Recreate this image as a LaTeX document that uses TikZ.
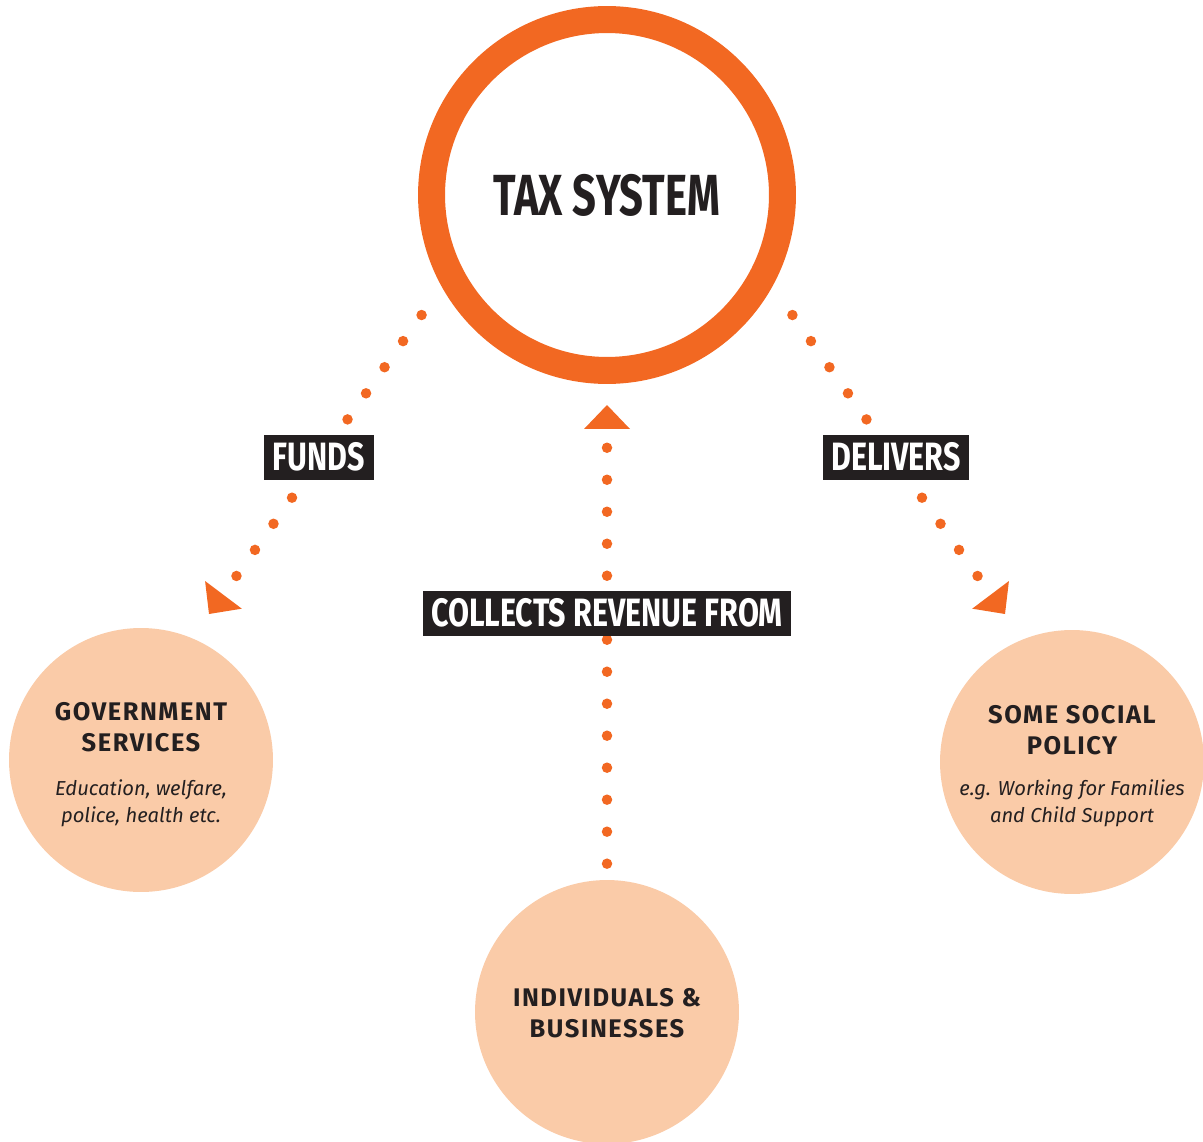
\documentclass[tikz,border=0pt]{standalone}
\usepackage{fontspec}
\setmainfont{Fira Sans}
\newfontfamily\condfont[FakeStretch=0.72]{Fira Sans}
\newfontfamily\tagfont[FakeStretch=0.77]{Fira Sans}
\newfontfamily\headfont[LetterSpace=6]{Fira Sans}
\usetikzlibrary{shapes.geometric}

\definecolor{taxorange}{RGB}{242,104,34}
\definecolor{peach}{RGB}{250,203,168}
\definecolor{ink}{RGB}{35,31,32}

\tikzset{
  bubble/.style={circle, fill=peach, minimum size=5.28cm, inner sep=0},
  heading/.style={align=center, text=ink, inner sep=0, font=\headfont\fontsize{14.5}{17.6}\selectfont\bfseries},
  note/.style={align=center, text=ink, inner sep=0, font=\fontsize{11.5}{15.3}\selectfont\itshape},
  tag/.style={fill=ink, text=white, inner xsep=0.17cm, inner ysep=0.18cm,
    text height=0.54cm, text depth=0pt, font=\tagfont\fontsize{22.5}{24}\selectfont\bfseries},
  tip/.style={isosceles triangle, isosceles triangle stretches, fill=taxorange,
    inner sep=0, outer sep=0, minimum width=0.92cm, minimum height=0.48cm, anchor=apex},
  dots/.style={draw=taxorange, line width=0.21cm, line cap=round, dash pattern=on 0pt off 0.64cm},
}

\begin{document}
\begin{tikzpicture}[x=0.02cm, y=-0.02cm]
  \useasboundingbox (0,0) rectangle (1203,1142);

  % the tax system ring
  \node (tax) [circle, draw=taxorange, line width=0.54cm, minimum size=7.02cm, inner sep=0,
    text=ink, font=\condfont\fontsize{33}{36}\selectfont\bfseries] at (607,195) {TAX SYSTEM};

  % the three bubbles
  \node (gov) [bubble] at (141,760) {};
  \node (govHead) [heading] at (141,727) {GOVERNMENT\\SERVICES};
  \node (govNote) [note] at (141,803) {Education, welfare,\\police, health etc.};

  \node (social) [bubble] at (1072,762) {};
  \node (socialHead) [heading] at (1072,730) {SOME SOCIAL\\POLICY};
  \node (socialNote) [note] at (1072,803) {e.g. Working for Families\\and Child Support};

  \node (people) [bubble] at (607,1012) {};
  \node (peopleHead) [heading] at (607,1013) {INDIVIDUALS \&\\BUSINESSES};

  % arrow heads
  \node (fundsTip) [tip, rotate=233] at (209,614) {};
  \node (delTip) [tip, rotate=-53] at (1005,614) {};
  \node (upTip) [tip, rotate=90] at (607,405) {};

  % dotted connectors
  \draw[dots, shorten <=0.697cm] (tax.209) -- (fundsTip);
  \draw[dots, shorten <=0.697cm] (tax.331) -- (delTip);
  \draw[dots, shorten <=0.32cm] (people) -- (upTip);

  % labels on top of the dots
  \node (funds) [tag] at (319,457.5) {FUNDS};
  \node (delivers) [tag] at (896,457.5) {DELIVERS};
  \node (collects) [tag] at (607,613) {COLLECTS REVENUE FROM};
\end{tikzpicture}
\end{document}
